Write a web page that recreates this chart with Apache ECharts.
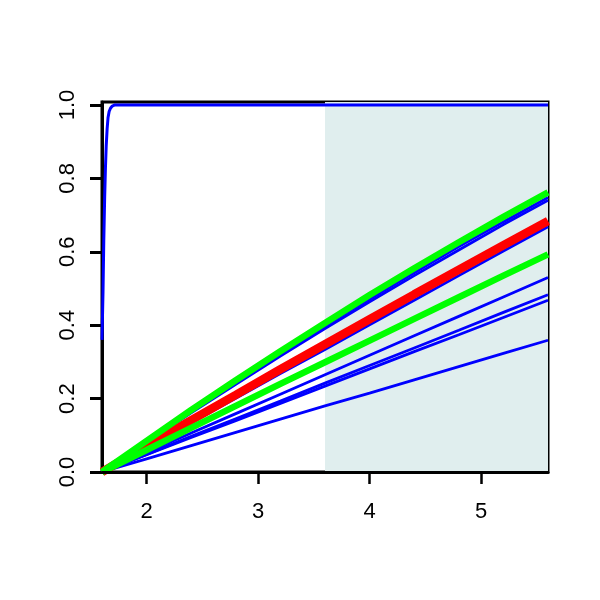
<!DOCTYPE html>
<html>
<head>
<meta charset="utf-8">
<script src="https://cdn.jsdelivr.net/npm/echarts@6/dist/echarts.min.js"></script>
<style>html,body{margin:0;padding:0;background:#fff}#c{width:600px;height:600px}</style>
</head>
<body>
<div id="c"></div>
<script>
// sample x positions shared by the sloped curves
const xs = [1.6, 2.0, 2.4, 2.8, 3.2, 3.6, 4.0, 4.4, 4.8, 5.2, 5.6];
const greenTop = [0, 0.085, 0.169, 0.250, 0.329, 0.406, 0.482, 0.555, 0.626, 0.695, 0.762];
const greenLow = [0, 0.060, 0.120, 0.180, 0.240, 0.299, 0.358, 0.417, 0.476, 0.535, 0.593];
const redLine  = [0, 0.071, 0.141, 0.210, 0.280, 0.348, 0.416, 0.484, 0.551, 0.618, 0.684];
const blue1 = [0, 0.083, 0.165, 0.244, 0.322, 0.398, 0.471, 0.543, 0.614, 0.682, 0.748];
const blue2 = [0, 0.081, 0.161, 0.239, 0.316, 0.391, 0.464, 0.535, 0.605, 0.674, 0.740];
const blue3 = [0, 0.067, 0.134, 0.201, 0.268, 0.334, 0.401, 0.468, 0.535, 0.602, 0.668];
const blue4 = [0, 0.053, 0.106, 0.159, 0.212, 0.265, 0.318, 0.371, 0.424, 0.477, 0.530];
const blue5 = [0, 0.048, 0.097, 0.145, 0.193, 0.242, 0.290, 0.338, 0.386, 0.435, 0.483];
const blue6 = [0, 0.047, 0.094, 0.140, 0.187, 0.234, 0.281, 0.328, 0.374, 0.421, 0.468];
const blue7 = [0, 0.036, 0.072, 0.108, 0.144, 0.180, 0.215, 0.251, 0.287, 0.323, 0.359];
// steep curve
const steepX = [1.6, 1.6045, 1.609, 1.616, 1.624, 1.631, 1.638, 1.646, 1.654, 1.664, 1.676, 1.692, 1.716, 1.8, 5.6];
const steepY = [0.36, 0.362, 0.49, 0.63, 0.75, 0.83, 0.89, 0.935, 0.965, 0.982, 0.991, 0.997, 1.0, 1.0, 1.0];
// shaded interval
const shadeStart = 3.6, shadeEnd = 5.6;
const xTicks = [2, 3, 4, 5];
const yTicks = [0, 0.2, 0.4, 0.6, 0.8, 1.0];

const pairs = (x, y) => x.map((v, i) => [v, y[i]]);
const mk = (y, color, width) => ({
  type: 'line', data: pairs(xs, y), symbol: 'none', silent: true,
  lineStyle: { color: color, width: width }
});

const chart = echarts.init(document.getElementById('c'), null, { renderer: 'canvas' });
chart.setOption({
  animation: false,
  backgroundColor: '#fff',
  grid: { left: 102, right: 52, top: 102, bottom: 128, show: true, borderColor: '#000', borderWidth: 3, backgroundColor: 'transparent' },
  xAxis: {
    type: 'value', min: 1.6, max: 5.6, z: 10,
    splitLine: { show: false },
    axisLine: { show: true, lineStyle: { color: '#000', width: 3 } },
    axisTick: { show: true, customValues: xTicks, length: 12, lineStyle: { color: '#000', width: 2.5 } },
    axisLabel: { customValues: xTicks, margin: 29, color: '#000', fontSize: 22, fontFamily: 'Liberation Sans' }
  },
  yAxis: {
    type: 'value', min: 0, max: 1.008,
    splitLine: { show: false },
    axisLine: { show: true, lineStyle: { color: '#000', width: 3 } },
    axisTick: { show: true, customValues: yTicks, length: 12, lineStyle: { color: '#000', width: 3 } },
    axisLabel: { customValues: yTicks, rotate: 90, margin: 23, color: '#000', fontSize: 22, fontFamily: 'Liberation Sans',
      formatter: v => v.toFixed(1) }
  },
  series: [
    { type: 'line', data: [], silent: true,
      markArea: { silent: true, itemStyle: { color: '#E0EEEE' },
        data: [[{ xAxis: shadeStart, yAxis: 0 }, { xAxis: shadeEnd, yAxis: 1.008 }]] } },
    { type: 'line', data: pairs(steepX, steepY), symbol: 'none', silent: true, lineStyle: { color: '#0000FF', width: 3 } },
    mk(blue1, '#0000FF', 2.8),
    mk(blue2, '#0000FF', 2.8),
    mk(blue3, '#0000FF', 2.8),
    mk(blue4, '#0000FF', 2.8),
    mk(blue5, '#0000FF', 2.8),
    mk(blue6, '#0000FF', 2.8),
    mk(blue7, '#0000FF', 2.8),
    mk(redLine, '#FF0000', 8.5),
    mk(greenLow, '#00FF00', 6.5),
    mk(greenTop, '#00FF00', 6.5)
  ]
});
</script>
</body>
</html>
